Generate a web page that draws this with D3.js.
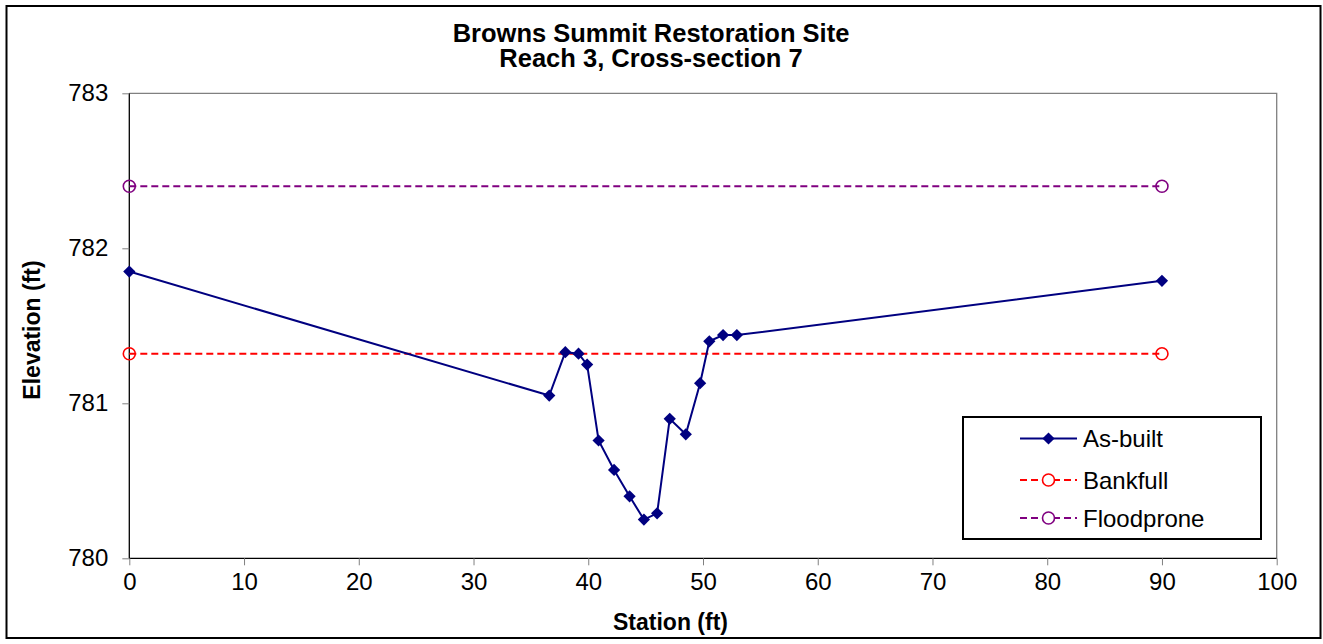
<!DOCTYPE html>
<html><head><meta charset="utf-8">
<script src="https://cdn.jsdelivr.net/npm/d3@7"></script>
<style>body{margin:0;background:#fff}svg{display:block;font-family:"Liberation Sans",Arial,sans-serif}</style>
</head><body><svg id="c" width="1323" height="644"></svg>
<script>
const stations = [0, 36.6, 38.0, 39.15, 39.9, 40.9, 42.25, 43.6, 44.85, 46.0, 47.1, 48.5, 49.75, 50.55, 51.75, 52.95, 90];
const asBuilt = [781.85, 781.05, 781.33, 781.32, 781.25, 780.76, 780.57, 780.40, 780.25, 780.29, 780.90, 780.80, 781.13, 781.40, 781.44, 781.44, 781.79];
const bankfullX = [0, 90];
const bankfull = [781.32, 781.32];
const floodproneX = [0, 90];
const floodprone = [782.40, 782.40];
const xTicks = [0, 10, 20, 30, 40, 50, 60, 70, 80, 90, 100];
const yTicks = [780, 781, 782, 783];
const titleLines = ["Browns Summit Restoration Site", "Reach 3, Cross-section 7"];
const seriesNames = ["As-built", "Bankfull", "Floodprone"];

const svg = d3.select("#c");
const L = 129.3, R = 1276.7, T = 93.3, B = 558.3;
const x = d3.scaleLinear().domain([0, 100]).range([L, R]);
const y = d3.scaleLinear().domain([780, 783]).range([B, T]);

// outer border
svg.append("rect").attr("x", 6.5).attr("y", 6).attr("width", 1314).attr("height", 632)
  .attr("fill", "#fff").attr("stroke", "#000").attr("stroke-width", 2);

// plot area border (grey top/right)
svg.append("path").attr("d", `M${L},${T}H${R}V${B}`).attr("fill", "none").attr("stroke", "#808080").attr("stroke-width", 1.3);

// axes
const xAxis = d3.axisBottom(x).tickValues(xTicks).tickSize(7).tickPadding(8).tickFormat(d3.format("d"));
const gx = svg.append("g").attr("transform", `translate(0,${B})`).call(xAxis);
const yAxis = d3.axisLeft(y).tickValues(yTicks).tickSize(7).tickPadding(14).tickFormat(d3.format("d"));
const gy = svg.append("g").attr("transform", `translate(${L},0)`).call(yAxis);
[gx, gy].forEach(g => {
  g.select(".domain").attr("stroke", "#000").attr("stroke-width", 1.3);
  g.selectAll(".tick line").attr("stroke", "#808080").attr("stroke-width", 1);
  g.selectAll(".tick text").attr("font-size", 24).attr("fill", "#000").attr("font-family", "Liberation Sans, Arial, sans-serif");
});
gx.select(".domain").attr("d", `M${L},0H${R}`);
gy.select(".domain").attr("d", `M0,${T}V${B}`);

// titles
svg.append("text").attr("x", 651).attr("y", 41.5).attr("text-anchor", "middle")
  .attr("font-size", 25.5).attr("font-weight", "bold").text(titleLines[0]);
svg.append("text").attr("x", 651).attr("y", 66.5).attr("text-anchor", "middle")
  .attr("font-size", 25.5).attr("font-weight", "bold").text(titleLines[1]);
svg.append("text").attr("x", 670.5).attr("y", 630).attr("text-anchor", "middle")
  .attr("font-size", 23).attr("font-weight", "bold").text("Station (ft)");
svg.append("text").attr("transform", "translate(40,330) rotate(-90)").attr("text-anchor", "middle")
  .attr("font-size", 23).attr("font-weight", "bold").text("Elevation (ft)");

const line = d3.line().x(d => x(d[0])).y(d => y(d[1]));
const diamond = d3.symbol().type(d3.symbolSquare).size(75);

function drawDashed(xs, ys, color) {
  const pts = xs.map((v, i) => [v, ys[i]]);
  svg.append("path").attr("d", line(pts)).attr("fill", "none").attr("stroke", color)
    .attr("stroke-width", 2).attr("stroke-dasharray", "7,4");
  svg.selectAll(null).data(pts).enter().append("circle")
    .attr("cx", d => x(d[0])).attr("cy", d => y(d[1])).attr("r", 6)
    .attr("fill", "none").attr("stroke", color).attr("stroke-width", 1.6);
}
drawDashed(floodproneX, floodprone, "#800080");
drawDashed(bankfullX, bankfull, "#FF0000");

const abPts = stations.map((v, i) => [v, asBuilt[i]]);
svg.append("path").attr("d", line(abPts)).attr("fill", "none").attr("stroke", "#000080").attr("stroke-width", 2);
svg.selectAll(null).data(abPts).enter().append("path")
  .attr("d", diamond).attr("fill", "#000080")
  .attr("transform", d => `translate(${x(d[0])},${y(d[1])}) rotate(45)`);

// legend
const lg = svg.append("g");
lg.append("rect").attr("x", 963).attr("y", 417).attr("width", 298).attr("height", 122)
  .attr("fill", "#fff").attr("stroke", "#000").attr("stroke-width", 2);
const ly = [438.5, 480, 518];
const lcol = ["#000080", "#FF0000", "#800080"];
seriesNames.forEach((n, i) => {
  const l = lg.append("line").attr("x1", 1020).attr("x2", 1077).attr("y1", ly[i]).attr("y2", ly[i])
    .attr("stroke", lcol[i]).attr("stroke-width", 2);
  if (i > 0) {
    l.attr("stroke-dasharray", "7,4");
    lg.append("circle").attr("cx", 1048.5).attr("cy", ly[i]).attr("r", 6).attr("fill", "#fff")
      .attr("stroke", lcol[i]).attr("stroke-width", 1.6);
  } else {
    lg.append("path").attr("d", diamond).attr("fill", lcol[i])
      .attr("transform", `translate(1048.5,${ly[i]}) rotate(45)`);
  }
  lg.append("text").attr("x", 1083).attr("y", ly[i] + 8.5).attr("font-size", 24).text(n);
});
</script></body></html>
